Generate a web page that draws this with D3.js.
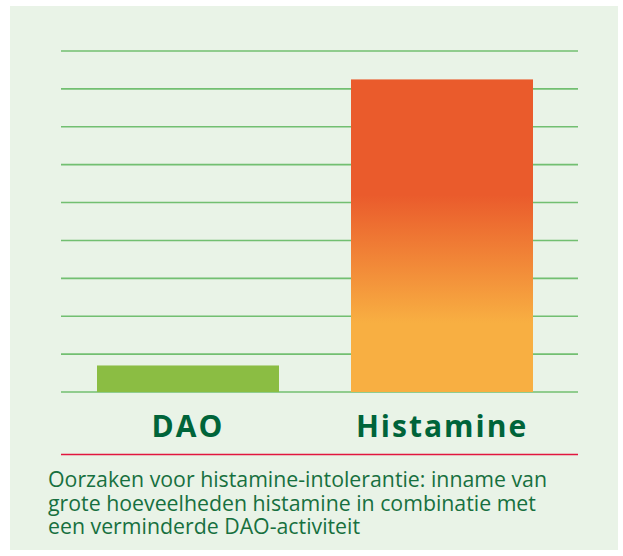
<!DOCTYPE html>
<html>
<head>
<meta charset="utf-8">
<script src="https://cdn.jsdelivr.net/npm/d3@7"></script>
<style>
  body { margin: 0; background: #fff; }
  svg { display: block; }
</style>
</head>
<body>
<div id="chart"></div>
<script>
const categories = ["DAO", "Histamine"];
const values = [0.7, 8.25];
const gridValues = [0, 1, 2, 3, 4, 5, 6, 7, 8, 9];
const captionLines = [
  "Oorzaken voor histamine-intolerantie: inname van",
  "grote hoeveelheden histamine in combinatie met",
  "een verminderde DAO-activiteit",
];

const width = 623;
const height = 556;

const svg = d3
  .select("#chart")
  .append("svg")
  .attr("width", width)
  .attr("height", height);

// light green panel
svg
  .append("rect")
  .attr("x", 10)
  .attr("y", 6)
  .attr("width", 608)
  .attr("height", 544)
  .attr("fill", "#e9f3e7");

const y = d3.scaleLinear().domain([0, 9]).range([392, 51]);
const x = d3
  .scaleBand()
  .domain(categories)
  .range([97, 533])
  .paddingInner(0.2835)
  .paddingOuter(0);

// histamine gradient, fixed to chart coordinates
const barTop = y(values[1]);
const span = y(0) - barTop;
const grad = svg
  .append("defs")
  .append("linearGradient")
  .attr("id", "histGrad")
  .attr("gradientUnits", "userSpaceOnUse")
  .attr("x1", 0)
  .attr("x2", 0)
  .attr("y1", barTop)
  .attr("y2", y(0));
grad.append("stop").attr("offset", (195 - barTop) / span).attr("stop-color", "#ea5b2c");
grad.append("stop").attr("offset", (323 - barTop) / span).attr("stop-color", "#f8af42");

svg
  .append("g")
  .selectAll("line")
  .data(gridValues)
  .join("line")
  .attr("x1", 61)
  .attr("x2", 578)
  .attr("y1", (d) => y(d))
  .attr("y2", (d) => y(d))
  .attr("stroke", "#5db55c")
  .attr("stroke-opacity", 0.85)
  .attr("stroke-width", 1.6);

svg
  .append("g")
  .selectAll("rect")
  .data(categories)
  .join("rect")
  .attr("x", (d) => x(d))
  .attr("width", x.bandwidth())
  .attr("y", (d, i) => y(values[i]))
  .attr("height", (d, i) => y(0) - y(values[i]))
  .attr("fill", (d, i) => (i === 0 ? "#8bbd43" : "url(#histGrad)"));

svg
  .append("g")
  .selectAll("text")
  .data(categories)
  .join("text")
  .text((d) => d)
  .attr("x", (d) => x(d) + x.bandwidth() / 2)
  .attr("y", 437)
  .attr("text-anchor", "middle")
  .attr("font-family", "Open Sans")
  .attr("font-weight", "bold")
  .attr("font-size", 30)
  .attr("letter-spacing", 2)
  .attr("fill", "#00643a");

svg
  .append("line")
  .attr("x1", 61)
  .attr("x2", 578)
  .attr("y1", 454.5)
  .attr("y2", 454.5)
  .attr("stroke", "#e2163f")
  .attr("stroke-width", 1.3);

svg
  .append("g")
  .selectAll("text")
  .data(captionLines)
  .join("text")
  .text((d) => d)
  .attr("x", 48)
  .attr("y", (d, i) => 487 + i * 23.5)
  .attr("font-family", "Open Sans")
  .attr("font-size", 21.3)
  .attr("fill", "#17703f");
</script>
</body>
</html>
